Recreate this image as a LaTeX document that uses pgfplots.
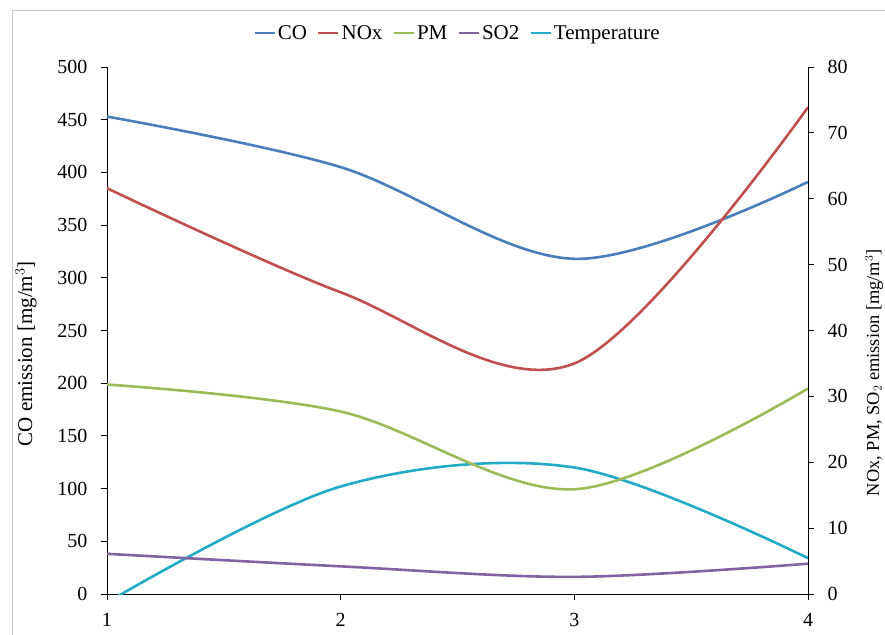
\documentclass[border=0pt]{standalone}
\usepackage{fontspec}
\setmainfont{Liberation Serif}
\usepackage{pgfplots}
\pgfplotsset{compat=1.18}

\definecolor{cCO}{HTML}{4A7EBB}
\definecolor{cNOx}{HTML}{C0504D}
\definecolor{cPM}{HTML}{9BBB59}
\definecolor{cSO}{HTML}{8064A2}
\definecolor{cTemp}{HTML}{23AAC6}
\definecolor{frame}{HTML}{C8C8C8}

\pgfplotsset{
  base/.style={
    width=701pt, height=527pt, scale only axis,
    xmin=1, xmax=4, xtick={1,2,3,4},
    tick align=outside, major tick length=6pt,
    tick style={black, line width=0.9pt},
    axis line style={black, line width=0.9pt},
    ticklabel style={font=\fontsize{20}{20}\selectfont},
    /pgf/number format/assume math mode=true,
    every axis plot/.append style={smooth, tension=0.55, line width=2.6pt, no markers},
  }
}

\begin{document}
\begin{tikzpicture}
\path[use as bounding box] (-107pt,-40pt) rectangle (778pt,594pt);
% light frame of the original figure
\draw[frame, line width=1pt] (-94pt,-45pt) -- (-94pt,583pt) -- (785pt,583pt);
\begin{axis}[base,
  at={(0pt,0pt)}, anchor=south west,
  axis x line*=bottom, axis y line*=left,
  ymin=0, ymax=500, ytick distance=50,
  ylabel={CO emission [mg/m$^3$]},
  ylabel style={font=\fontsize{21}{21}\selectfont, at={(axis description cs:0,0.456)}, anchor=center, yshift=81pt},
  yticklabel style={xshift=-10pt},
  xticklabel style={yshift=-10pt},
]
\addplot[cCO] coordinates {(1,453) (2,405) (3,318) (4,391)};
\addplot[cTemp] coordinates {(1,-8) (2,102) (3,120) (4,34)};
\end{axis}
\begin{axis}[base,
  at={(0pt,0pt)}, anchor=south west,
  axis x line=none, axis y line*=right,
  ymin=0, ymax=80, ytick distance=10,
  yticklabel style={xshift=10pt},
  ylabel={NOx, PM, SO$_2$ emission [mg/m$^3$]},
  ylabel style={font=\fontsize{18.4}{18.4}\selectfont, at={(axis description cs:1,0.42)}, anchor=center, rotate=0, yshift=-66pt},
  legend columns=-1,
  legend style={draw=none, fill=none, at={(0.5,1.0)}, anchor=south, yshift=22pt,
    font=\fontsize{21}{21}\selectfont,
    /tikz/every even column/.append style={column sep=8pt}},
  legend image code/.code={\draw[#1, line width=2.6pt] (0pt,0pt) -- (20pt,0pt);},
]
\addlegendimage{cCO, line width=2.6pt}
\addlegendentry{CO}
\addplot[cNOx] coordinates {(1,61.6) (2,45.8) (3,35) (4,73.9)};
\addlegendentry{NOx}
\addplot[cPM] coordinates {(1,31.8) (2,27.7) (3,15.9) (4,31.2)};
\addlegendentry{PM}
\addplot[cSO] coordinates {(1,6.1) (2,4.2) (3,2.6) (4,4.6)};
\addlegendentry{SO2}
\addlegendimage{cTemp, line width=2.6pt}
\addlegendentry{Temperature}
\end{axis}
\end{tikzpicture}
\end{document}
